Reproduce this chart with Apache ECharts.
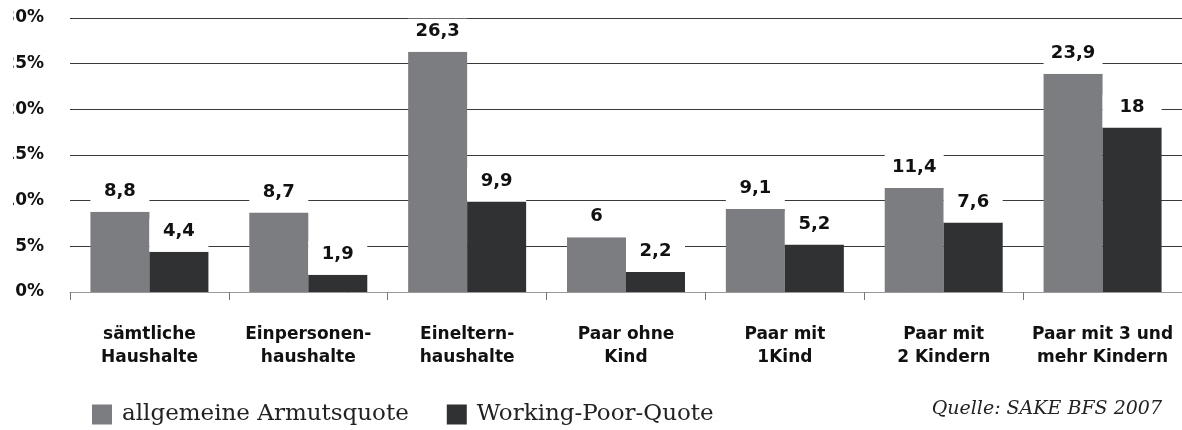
<!DOCTYPE html>
<html>
<head>
<meta charset="utf-8">
<script src="https://cdn.jsdelivr.net/npm/echarts@6/dist/echarts.min.js"></script>
<style>
  html, body { margin: 0; padding: 0; background: #fff; }
  #chart { position: absolute; left: 0; top: 0; width: 1182px; height: 430px; }
  /* the original picture is cut off at the left edge */
  #cut { position: absolute; left: 0; top: 0; width: 13px; height: 310px; background: #fff; z-index: 5; }
</style>
</head>
<body>
<div id="chart"></div>
<div id="cut"></div>
<script>
var categories = [
    'sämtliche\nHaushalte',
    'Einpersonen-\nhaushalte',
    'Eineltern-\nhaushalte',
    'Paar ohne\nKind',
    'Paar mit\n1Kind',
    'Paar mit\n2 Kindern',
    'Paar mit 3 und\nmehr Kindern'
];
var armutsquote = [8.8, 8.7, 26.3, 6, 9.1, 11.4, 23.9];
var workingPoor = [4.4, 1.9, 9.9, 2.2, 5.2, 7.6, 18];
var seriesNames = ['allgemeine Armutsquote', 'Working-Poor-Quote'];
var source = 'Quelle: SAKE BFS 2007';

var sans = 'DejaVu Sans';
var serif = 'DejaVu Serif';

var valueLabel = {
    show: true,
    position: 'top',
    distance: 0,
    formatter: function (p) {
        return String(p.value).replace('.', ',');
    },
    fontFamily: sans,
    fontWeight: 'bold',
    fontSize: 18,
    lineHeight: 15,
    color: '#111',
    backgroundColor: '#fff',
    width: 59,
    align: 'center',
    padding: [5, 0, 13, 0]
};

var chart = echarts.init(document.getElementById('chart'));
chart.setOption({
    animation: false,
    backgroundColor: '#fff',
    title: {
        text: source,
        right: 20,
        top: 400,
        padding: 0,
        textStyle: {
            fontFamily: serif,
            fontStyle: 'italic',
            fontWeight: 'normal',
            fontSize: 19,
            color: '#222'
        }
    },
    legend: {
        left: 92,
        top: 403,
        padding: 0,
        icon: 'rect',
        itemWidth: 20,
        itemHeight: 20,
        itemGap: 38,
        formatter: function (name) {
            return '{t|' + name + '}';
        },
        textStyle: {
            rich: {
                t: {
                    fontFamily: serif,
                    fontSize: 23,
                    color: '#222',
                    padding: [0, 0, 0, 5]
                }
            }
        },
        data: seriesNames
    },
    grid: {
        left: 70,
        right: 0,
        top: 18,
        bottom: 138
    },
    xAxis: {
        type: 'category',
        data: categories,
        axisLine: { lineStyle: { color: '#999', width: 1 } },
        axisTick: { show: true, length: 8, lineStyle: { color: '#777' } },
        axisLabel: {
            interval: 0,
            margin: 31,
            fontFamily: sans,
            fontWeight: 'bold',
            fontSize: 17,
            lineHeight: 23,
            color: '#111'
        }
    },
    yAxis: {
        type: 'value',
        min: 0,
        max: 30,
        interval: 5,
        axisLine: { show: false },
        axisTick: { show: false },
        axisLabel: {
            margin: 26,
            formatter: '{value}%',
            fontFamily: sans,
            fontWeight: 'bold',
            fontSize: 17,
            color: '#111'
        },
        splitLine: { lineStyle: { color: '#3a3a3a', width: 1 } }
    },
    series: [
        {
            name: seriesNames[0],
            type: 'bar',
            data: armutsquote,
            barWidth: 59,
            barGap: '0%',
            itemStyle: { color: '#7c7d81' },
            label: valueLabel
        },
        {
            name: seriesNames[1],
            type: 'bar',
            data: workingPoor,
            barWidth: 59,
            barGap: '0%',
            itemStyle: { color: '#303133' },
            label: valueLabel
        }
    ]
});
</script>
</body>
</html>
